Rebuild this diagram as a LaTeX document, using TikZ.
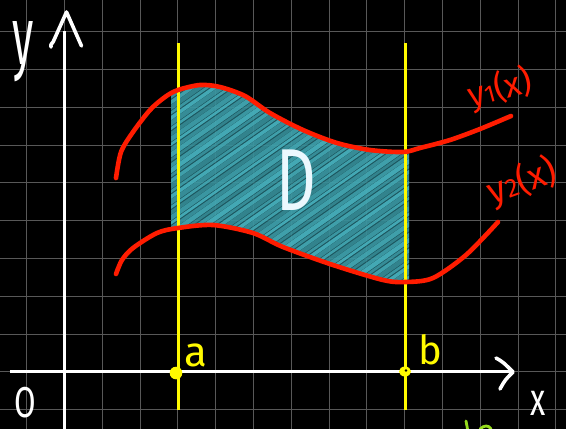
\documentclass[tikz,border=0pt]{standalone}
\usepackage{fontspec}
\setmainfont{Fira Sans}
\definecolor{gridc}{RGB}{88,88,88}
\definecolor{chalkred}{RGB}{255,28,0}
\definecolor{chalkyel}{RGB}{255,250,0}
\definecolor{cyanbase}{RGB}{34,100,110}
\definecolor{cyanhatch}{RGB}{72,178,190}
\definecolor{limec}{RGB}{150,220,30}
\tikzset{
  gridline/.style={draw=gridc,line width=1.1pt},
  axisline/.style={draw=white,line width=3.6pt},
  chevron/.style={draw=white,line width=3.6pt,line cap=round,line join=round},
  boundline/.style={draw=chalkyel,line width=3pt},
  curveline/.style={draw=chalkred,line width=4.6pt,line cap=round},
  hatchline/.style={draw=cyanhatch,line cap=round},
  lbl/.style={inner sep=0pt,text=white},
}
\begin{document}
\begin{tikzpicture}[x=1pt,y=-1pt]
\useasboundingbox (0,0) rectangle (566,429);
\fill[black] (0,0) rectangle (566,429);
% grid
\foreach \gx in {0,...,14} \draw[gridline] ({26.7+37.8*\gx},0) -- ++(0,429);
\foreach \gy in {0,...,10} \draw[gridline] (0,{31.7+37.8*\gy}) -- ++(566,0);

% shaded region D
\begin{scope}
  \clip (171,0) rectangle (409,429);
  \clip plot[smooth] coordinates {(116,178) (121,152) (133,132) (150,110) (165,97) (178,90) (200,85) (220,87) (245,96) (270,113) (303,130) (337,143) (370,150) (403,152) (420,148)}
    -- (420,282) -- plot[smooth] coordinates {(406,282) (383,280) (333,265) (283,247) (253,233) (213,225) (178,228) (157,233) (133,248) (122,260) (116,274)} -- cycle;
  \fill[cyanbase,opacity=0.85] (160,70) rectangle (420,300);
  \foreach \i in {0,...,80} {
    \pgfmathsetmacro\lw{2.6+mod(\i,3)*0.9}
    \pgfmathsetmacro\op{0.5+mod(\i*7,5)*0.1}
    \draw[hatchline,line width=\lw pt,opacity=\op] ({-170+7.5*\i},320) -- ++(400,-280);
  }
\end{scope}

% yellow bounds
\coordinate (aTop) at (178,43);
\coordinate (aBot) at (178,410);
\coordinate (bTop) at (405,43);
\coordinate (bBot) at (405,410);
\draw[boundline] (aTop) -- (aBot);
\draw[boundline] (bTop) -- (bBot);

% curves
\draw[curveline] plot[smooth] coordinates {(116,178) (121,152) (133,132) (150,110) (165,97) (178,90) (200,85) (220,87) (245,96) (270,113) (303,130) (337,143) (370,150) (403,152) (420,148) (450,140) (480,129) (511,116)};
\draw[curveline] plot[smooth] coordinates {(116,274) (122,260) (133,248) (157,233) (178,228) (213,225) (253,233) (283,247) (333,265) (383,280) (406,282) (433,278) (466,255) (498,222)};

% axes
\coordinate (yBot) at (64.5,429);
\coordinate (yTop) at (64.5,31);
\coordinate (xLeft) at (10,371.5);
\coordinate (xRight) at (511,371.5);
\draw[axisline] (yBot) -- (yTop);
\draw[axisline] (xLeft) -- (xRight);
\coordinate (yTip) at (66.5,12);
\coordinate (xTip) at (513,372);
\draw[chevron] (51,47) .. controls (50,43) and (53,44) .. (54,40) -- (yTip) -- (81.5,46);
\draw[chevron] (496,358) .. controls (503,362) .. (xTip) .. controls (505,380) .. (500,389);

% points
\fill[chalkyel] (176,373) circle (6.3pt);
\fill[chalkyel] (405,371.5) ellipse (6pt and 5pt);
\fill[black] (406,370.5) circle (1.4pt);

% labels
\node[lbl,font=\fontsize{48}{48}\selectfont,xscale=0.9,yscale=1.7] (ylab) at (23,52) {y};
\node[lbl,font=\fontsize{40}{40}\selectfont,xscale=0.78,yscale=1.08] (olab) at (25,403) {O};
\node[lbl,font=\fontsize{46}{46}\selectfont,xscale=0.68] (xlab) at (538,403) {x};
\node[lbl,text=chalkyel,font=\fontsize{42}{42}\selectfont] (alab) at (196,355) {a};
\node[lbl,text=chalkyel,font=\fontsize{40}{40}\selectfont] (blab) at (430,350) {b};
\node[lbl,text=white!92!cyan,font=\fontsize{88}{88}\selectfont,xscale=0.7] (dlab) at (296,180) {D};
\node[lbl,text=chalkred,font=\fontsize{34}{34}\selectfont,rotate=15] (y1lab) at (500,89) {y{\fontsize{24}{24}\selectfont 1}(x)};
\node[lbl,text=chalkred,font=\fontsize{36}{36}\selectfont,rotate=20] (y2lab) at (522,182) {y{\fontsize{26}{26}\selectfont 2}(x)};

% green fragment at bottom edge
\draw[limec,line width=2.8pt,line cap=round] (466,421) -- (467.5,429);
\draw[limec,line width=2.8pt,line cap=round] (480,429) .. controls (484,425) and (489,425) .. (491,429);
\end{tikzpicture}
\end{document}
